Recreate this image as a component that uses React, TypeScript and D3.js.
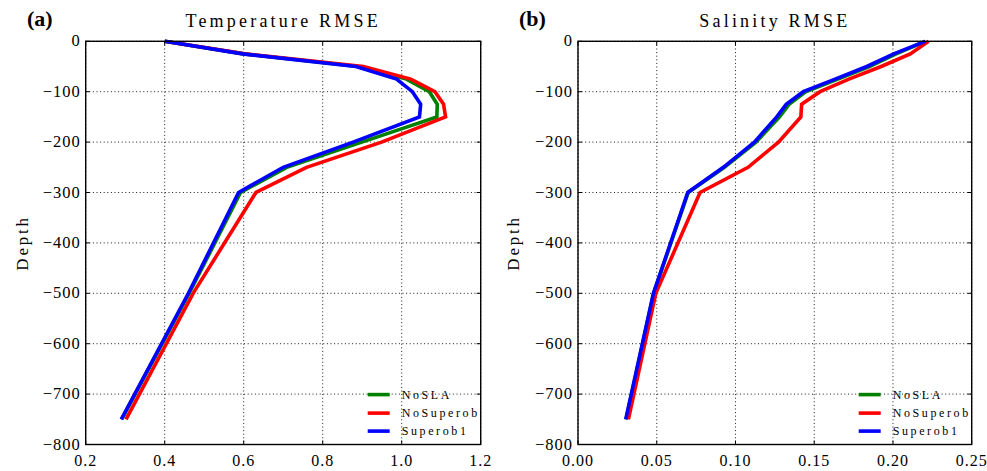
import React from 'react';
import * as d3 from 'd3';

// depth levels (m) and RMSE profiles
const depths = [0, -25, -50, -75, -100, -125, -150, -200, -250, -300, -500, -750];

const tempNoSLA = [0.40, 0.600, 0.890, 1.012, 1.070, 1.090, 1.089, 0.899, 0.709, 0.592, 0.462, 0.291];
const tempNoSuperob = [0.40, 0.603, 0.903, 1.023, 1.084, 1.106, 1.111, 0.949, 0.759, 0.631, 0.472, 0.302];
const tempSuperob1 = [0.40, 0.597, 0.884, 0.987, 1.027, 1.048, 1.045, 0.877, 0.700, 0.587, 0.460, 0.290];

const salNoSLA = [0.2205, 0.2020, 0.1850, 0.1650, 0.1445, 0.1340, 0.1280, 0.1130, 0.0930, 0.0700, 0.0480, 0.0305];
const salNoSuperob = [0.2226, 0.2110, 0.1925, 0.1720, 0.1537, 0.1420, 0.1415, 0.1273, 0.1080, 0.0775, 0.0494, 0.0320];
const salSuperob1 = [0.2205, 0.2005, 0.1834, 0.1633, 0.1431, 0.1322, 0.1262, 0.1120, 0.0923, 0.0697, 0.0479, 0.0303];

const seriesNames = ['NoSLA', 'NoSuperob', 'Superob1'];
const seriesColors = ['#008000', '#ff0000', '#0000ff'];

const tempTicks = [0.2, 0.4, 0.6, 0.8, 1.0, 1.2];
const salTicks = [0.0, 0.05, 0.10, 0.15, 0.20, 0.25];
const depthTicks = [0, -100, -200, -300, -400, -500, -600, -700, -800];

const FONT = "'Liberation Serif', 'Times New Roman', 'DejaVu Serif', serif";
const W = 987;
const H = 471;

type PanelProps = {
  left: number;
  right: number;
  top: number;
  bottom: number;
  xDomain: [number, number];
  xTicks: number[];
  xFmt: (v: number) => string;
  series: number[][];
  title: string;
  tag: string;
  tagX: number;
  depthX: number;
};

const txt = (size: number, spacing = 0, weight: any = 'normal') => ({
  fontFamily: FONT,
  fontSize: size,
  letterSpacing: spacing,
  fontWeight: weight,
});

const Panel = ({ left, right, top, bottom, xDomain, xTicks, xFmt, series, title, tag, tagX, depthX }: PanelProps) => {
  const x = d3.scaleLinear().domain(xDomain).range([left, right]);
  const y = d3.scaleLinear().domain([-800, 0]).range([bottom, top]);

  const line = d3.line<[number, number]>()
    .x(d => x(d[0]))
    .y(d => y(d[1]));

  const legendX = right - 113;
  const legendY = [y(-700) + 0.5, y(-700) + 19, y(-700) + 37];

  return (
    <g>
      {/* grid */}
      {xTicks.map(t => (
        <line key={'gx' + t} x1={x(t)} x2={x(t)} y1={top} y2={bottom}
          stroke="#000" strokeWidth={0.9} strokeDasharray="1 2.6" />
      ))}
      {depthTicks.map(t => (
        <line key={'gy' + t} x1={left} x2={right} y1={y(t)} y2={y(t)}
          stroke="#000" strokeWidth={0.9} strokeDasharray="1 2.6" />
      ))}

      {/* profiles */}
      {series.map((vals, i) => (
        <path key={seriesNames[i]}
          d={line(vals.map((v, j) => [v, depths[j]] as [number, number])) || ''}
          fill="none" stroke={seriesColors[i]} strokeWidth={3.6} strokeLinejoin="miter" />
      ))}

      {/* frame + inward ticks */}
      <rect x={left} y={top} width={right - left} height={bottom - top}
        fill="none" stroke="#000" strokeWidth={1.4} />
      {xTicks.map(t => (
        <g key={'tx' + t}>
          <line x1={x(t)} x2={x(t)} y1={bottom} y2={bottom - 4} stroke="#000" strokeWidth={1} />
          <line x1={x(t)} x2={x(t)} y1={top} y2={top + 4} stroke="#000" strokeWidth={1} />
        </g>
      ))}
      {depthTicks.map(t => (
        <g key={'ty' + t}>
          <line x1={left} x2={left + 4} y1={y(t)} y2={y(t)} stroke="#000" strokeWidth={1} />
          <line x1={right} x2={right - 4} y1={y(t)} y2={y(t)} stroke="#000" strokeWidth={1} />
        </g>
      ))}

      {/* tick labels */}
      {xTicks.map(t => (
        <text key={'lx' + t} x={x(t)} y={466} textAnchor="middle" style={txt(16, 1)}>{xFmt(t)}</text>
      ))}
      {depthTicks.map(t => (
        <text key={'ly' + t} x={left - 5} y={y(t) + 5} textAnchor="end" style={txt(16.5, 1)}>
          {t === 0 ? '0' : '\u2212' + Math.abs(t)}
        </text>
      ))}

      {/* titles */}
      <text x={(left + right) / 2} y={27} textAnchor="middle" style={txt(18, 3.2)}>{title}</text>
      <text x={tagX} y={26} style={txt(22, 0, 'bold')}>{tag}</text>
      <text transform={`translate(${depthX},${(top + bottom) / 2}) rotate(-90)`}
        textAnchor="middle" style={txt(17, 2.8)}>Depth</text>

      {/* legend */}
      {seriesNames.map((name, i) => (
        <g key={'lg' + name}>
          <line x1={legendX} x2={legendX + 22} y1={legendY[i]} y2={legendY[i]}
            stroke={seriesColors[i]} strokeWidth={3.6} />
          <text x={legendX + 34} y={legendY[i] + 4} style={txt(12, 2.6)}>{name}</text>
        </g>
      ))}
    </g>
  );
};

export default function App() {
  const f1 = d3.format('.1f');
  const f2 = d3.format('.2f');
  return (
    <svg width={W} height={H} viewBox={`0 0 ${W} ${H}`}
      style={{ position: 'absolute', left: 0, top: 0, background: '#fff' }}>
      <rect width={W} height={H} fill="#fff" />
      <Panel left={85.7} right={480.7} top={41.3} bottom={444.5}
        xDomain={[0.2, 1.2]} xTicks={tempTicks} xFmt={f1}
        series={[tempNoSLA, tempNoSuperob, tempSuperob1]}
        title="Temperature RMSE" tag="(a)" tagX={27} depthX={28} />
      <Panel left={578} right={971.7} top={41.3} bottom={444.5}
        xDomain={[0, 0.25]} xTicks={salTicks} xFmt={f2}
        series={[salNoSLA, salNoSuperob, salSuperob1]}
        title="Salinity RMSE" tag="(b)" tagX={519} depthX={519} />
    </svg>
  );
}
